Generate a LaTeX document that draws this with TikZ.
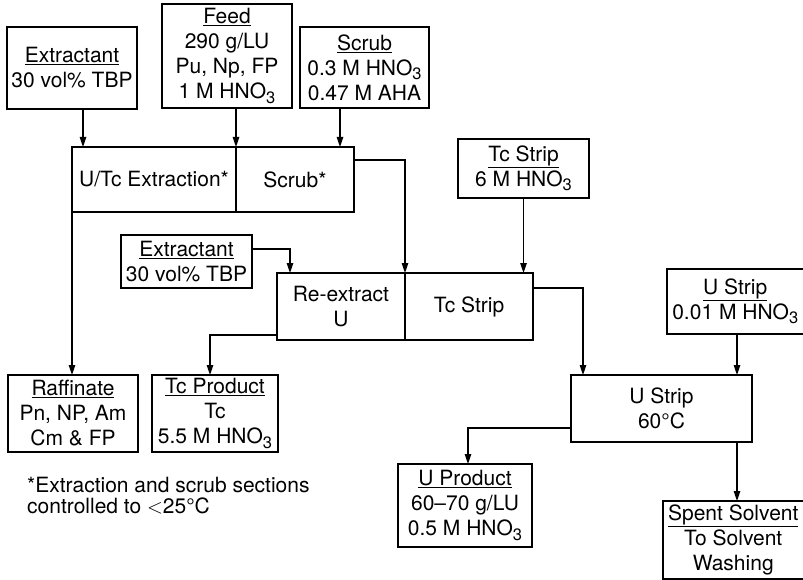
\documentclass[tikz,border=0pt]{standalone}
\usepackage{fontspec}
\setmainfont{TeX Gyre Heros}
\usepackage{tikz}
\usetikzlibrary{arrows.meta, positioning, calc}

\newcommand{\hnothree}{HNO\raisebox{-4.5pt}{\fontsize{16.5}{16.5}\selectfont 3}}

\begin{document}
\begin{tikzpicture}[
    x=1pt, y=-1pt,
    unit/.style={rectangle, draw, line width=1.2pt, inner sep=0pt, outer sep=0pt, align=center, font=\fontsize{21}{25}\selectfont},
    stream/.style={unit},
    arrow/.style={-{Triangle[length=10pt, width=6.5pt]}, line width=1.2pt},
]
\useasboundingbox (0,0) rectangle (803,580);

% Feed streams
\node[stream, minimum width=130pt, minimum height=82pt] (ext1) at (72,68) {\underline{Extractant}\\30 vol\% TBP};
\node[stream, minimum width=130pt, minimum height=104pt] (feed) at (227,56) {\underline{Feed}\\290 g/LU\\Pu, Np, FP\\1 M \hnothree};
\node[stream, minimum width=129pt, minimum height=81pt] (scrub) at (364.5,67.5) {\underline{Scrub}\\0.3 M \hnothree\\0.47 M AHA};
\node[stream, minimum width=131pt, minimum height=59pt] (tcfeed) at (523.5,168.5) {\underline{Tc Strip}\\6 M \hnothree};
\node[stream, minimum width=131pt, minimum height=53pt] (ext2) at (186.5,261.5) {\underline{Extractant}\\30 vol\% TBP};
\node[stream, minimum width=136.5pt, minimum height=65pt] (ufeed) at (735.25,301.5) {\underline{U Strip}\\0.01 M \hnothree};

% Contactor sections
\node[unit, minimum width=164pt, minimum height=65pt] (uxt) at (154,179.5) {U/Tc Extraction*};
\node[unit, minimum width=118pt, minimum height=65pt, right=0pt of uxt] (scrubsec) {Scrub*};
\node[unit, minimum width=128pt, minimum height=67pt] (reext) at (341,306.5) {Re-extract\\U};
\node[unit, minimum width=128pt, minimum height=67pt, right=0pt of reext] (tcstrip) {Tc Strip};
\node[unit, minimum width=181pt, minimum height=67pt] (ustrip) at (661.5,408.5) {U Strip\\60°C};

% Products
\node[stream, minimum width=130pt, minimum height=77pt] (raff) at (73,413.5) {\underline{Raffinate}\\Pn, NP, Am\\Cm \& FP};
\node[stream, minimum width=126pt, minimum height=77pt] (tcprod) at (215,413.5) {\underline{Tc Product}\\Tc\\5.5 M \hnothree};
\node[stream, minimum width=134pt, minimum height=83pt] (uprod) at (465,505.5) {\underline{U Product}\\60--70 g/LU\\0.5 M \hnothree};
\node[stream, minimum width=140.5pt, minimum height=78pt] (spent) at (733.25,540) {\underline{Spent Solvent}\\To Solvent\\Washing};

% Footnote
\node[anchor=north west, inner sep=0pt, align=left, font=\fontsize{21}{21}\selectfont] (note) at (27,477) {*Extraction and scrub sections\\controlled to $<$25°C};

% Arrows
\draw[arrow] ([xshift=11pt]ext1.south) -- ([xshift=11pt]ext1.south |- uxt.north);
\draw[arrow] (feed.south -| uxt.north east) -- (uxt.north east);
\draw[arrow] ([xshift=-24.5pt]scrub.south) -- ([xshift=-24.5pt]scrub.south |- scrubsec.north);
\draw[arrow] ([yshift=-13pt]scrubsec.north east) -| (reext.north east);
\draw[arrow] (uxt.south west) -- (uxt.south west |- raff.north);
\draw[arrow] ([yshift=-14pt]ext2.north east) -| ([xshift=13pt]reext.north west);
\draw[arrow] (tcfeed.south) -- (tcfeed.south |- tcstrip.north);
\draw[arrow] ([yshift=-15pt]tcstrip.north east) -| ([xshift=12pt]ustrip.north west);
\draw[arrow] ([xshift=-15pt]ustrip.north east |- ufeed.south) -- ([xshift=-15pt]ustrip.north east);
\draw[arrow] ([yshift=5pt]reext.south west) -| ([xshift=-5pt]tcprod.north);
\draw[arrow] ([yshift=14pt]ustrip.south west) -| ([xshift=3pt]uprod.north);
\draw[arrow] ([xshift=-15pt]ustrip.south east) -- ([xshift=-15pt]ustrip.south east |- spent.north);

\end{tikzpicture}
\end{document}
